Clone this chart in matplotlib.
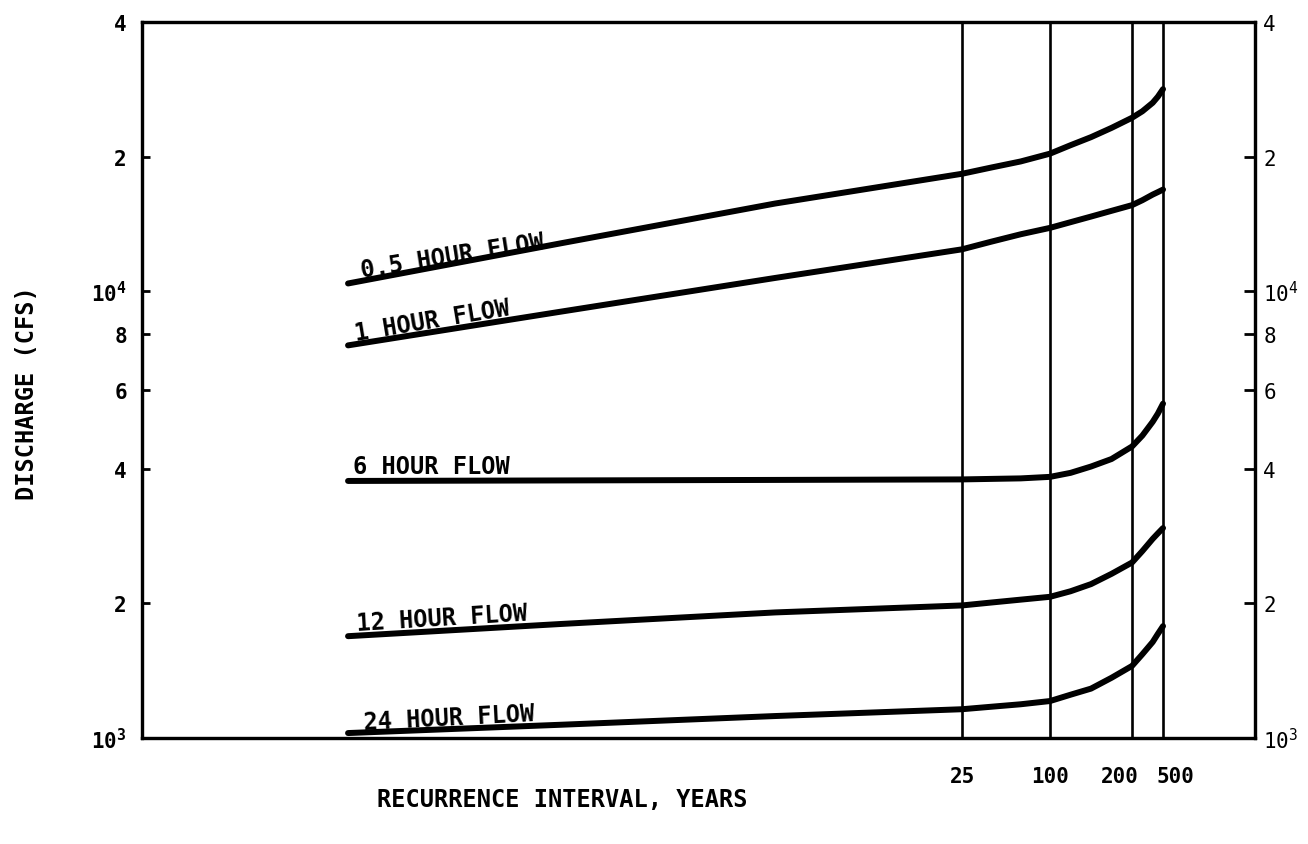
import numpy as np
import matplotlib
matplotlib.use("Agg")
import matplotlib.pyplot as plt
from matplotlib.ticker import NullLocator
from matplotlib.transforms import ScaledTranslation

# --- data ---
years = [2, 10, 18, 25, 50, 75, 100, 125, 150, 175, 200, 300, 400, 450, 500]
flow_05hr = [10400, 12800, 15700, 18300, 18900, 19500, 20300, 21200, 22100,
             23180, 24420, 25250, 26380, 27220, 28300]
flow_1hr = [7560, 9000, 10700, 12400, 12900, 13400, 13850, 14260, 14680,
            15120, 15570, 15970, 16440, 16650, 16870]
flow_6hr = [3760, 3770, 3780, 3790, 3800, 3810, 3840, 3920, 4050,
            4210, 4490, 4750, 5100, 5320, 5600]
flow_12hr = [1690, 1800, 1910, 1980, 2010, 2040, 2070, 2130, 2210,
             2330, 2470, 2620, 2790, 2870, 2950]
flow_24hr = [1026, 1071, 1120, 1160, 1175, 1190, 1210, 1250, 1290,
             1364, 1450, 1540, 1640, 1710, 1780]

curve_labels = ["0.5 HOUR FLOW", "1 HOUR FLOW", "6 HOUR FLOW",
                "12 HOUR FLOW", "24 HOUR FLOW"]
grid_years = [25, 100, 200, 500]
grid_labels = ["25", "100", "200", "500"]

y_ticks = [1000, 2000, 4000, 6000, 8000, 10000, 20000, 40000]
y_ticklabels_left = [r"$\mathbf{10^3}$", "2", "4", "6", "8", r"$\mathbf{10^4}$", "2", "4"]
y_ticklabels_right = [r"$10^3$", "2", "4", "6", "8", r"$10^4$", "2", "4"]

# the hand drawn recurrence-interval axis is not log; piecewise mapping
scale_years = [1, 2, 25, 100, 200, 500, 1000]
scale_pos = [0, 206, 820, 908, 990, 1021, 1113]


def fwd(x):
    return np.interp(x, scale_years, scale_pos)


def inv(p):
    return np.interp(p, scale_pos, scale_years)


plt.rcParams['font.family'] = ['DejaVu Sans Mono', 'DejaVu Sans']
plt.rcParams['mathtext.fontset'] = 'custom'
plt.rcParams['mathtext.rm'] = 'DejaVu Sans Mono'
plt.rcParams['mathtext.bf'] = 'DejaVu Sans Mono:bold'

fig = plt.figure(figsize=(13.08, 8.45), dpi=100)
ax = fig.add_axes([0.1086, 0.1254, 0.8509, 0.8474])

ax.set_xscale('function', functions=(fwd, inv))
ax.set_yscale('log')
ax.set_xlim(1, 1000)
ax.set_ylim(1000, 40000)

for yr in grid_years:
    ax.axvline(yr, color='black', lw=1.9, zorder=2)

series = [flow_05hr, flow_1hr, flow_6hr, flow_12hr, flow_24hr]
# label placement: (dx, dy) offset in pixels from curve start, rotation
label_style = [(14, 6, 9), (8, 5, 9.5), (5, 8, 0), (9, 6, 3.5), (16, 4, 3)]
for vals, lab, (dx, dy, rot) in zip(series, curve_labels, label_style):
    ax.plot(years, vals, color='black', lw=4.3, solid_capstyle='round',
            solid_joinstyle='round', zorder=3)
    ax.annotate(lab, xy=(years[0], vals[0]), xytext=(dx, dy),
                textcoords='offset pixels', rotation=rot,
                rotation_mode='anchor', ha='left', va='baseline',
                fontsize=17, fontweight='bold')

for sp in ax.spines.values():
    sp.set_linewidth(2.3)

ax.xaxis.set_minor_locator(NullLocator())
ax.yaxis.set_minor_locator(NullLocator())
ax.set_xticks(grid_years, labels=grid_labels)
ax.tick_params(axis='x', length=0, pad=20, labelsize=15)
for lbl in ax.get_xticklabels():
    lbl.set_fontweight('bold')
shifts = {"200": -12, "500": 12}
for lbl in ax.get_xticklabels():
    s = shifts.get(lbl.get_text(), 0)
    if s:
        lbl.set_transform(lbl.get_transform() +
                          ScaledTranslation(s / 100, 0, fig.dpi_scale_trans))

ax.set_yticks(y_ticks, labels=y_ticklabels_left)
ax.tick_params(axis='y', direction='in', length=6, width=2, pad=11, labelsize=15)
for lbl in ax.get_yticklabels():
    lbl.set_fontweight('bold')

ax2 = ax.twinx()
ax2.set_yscale('log')
ax2.set_ylim(1000, 40000)
ax2.yaxis.set_minor_locator(NullLocator())
ax2.set_yticks(y_ticks, labels=y_ticklabels_right)
ax2.tick_params(axis='y', direction='in', length=8, width=2, pad=6, labelsize=15)
for sp in ax2.spines.values():
    sp.set_linewidth(2.3)

fig.text(0.43, 0.053, "RECURRENCE INTERVAL, YEARS", ha='center', va='center',
         fontsize=17, fontweight='bold')
fig.text(0.021, 0.535, "DISCHARGE (CFS)", ha='center', va='center',
         rotation=90, fontsize=17, fontweight='bold')

fig.savefig("out.png", dpi=100)
